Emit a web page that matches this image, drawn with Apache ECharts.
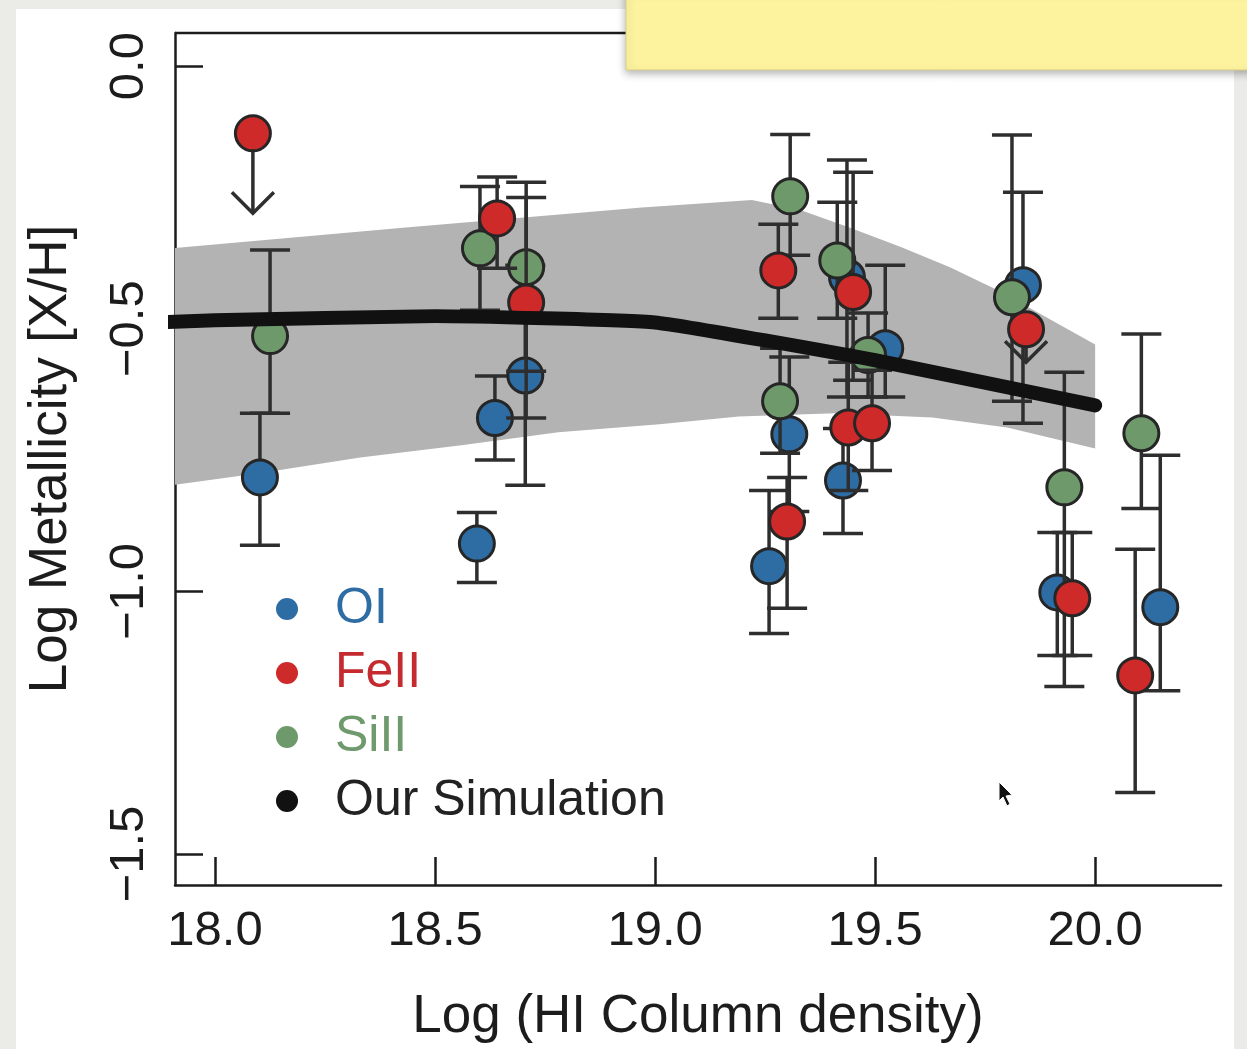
<!DOCTYPE html>
<html><head><meta charset="utf-8">
<script src="https://cdn.jsdelivr.net/npm/echarts@6/dist/echarts.min.js"></script>
<style>html,body{margin:0;padding:0;background:#ffffff;}#c{width:1247px;height:1049px;}</style>
</head><body><div id="c"></div>
<script>
// ---------- data ----------
const xTicks = [18.0, 18.5, 19.0, 19.5, 20.0];
const yTicks = [0.0, -0.5, -1.0, -1.5];

const oiX  = [18.102, 18.595, 18.636, 18.705, 19.259, 19.305, 19.427, 19.436, 19.523, 19.836, 19.914, 20.148];
const oiY  = [-0.783, -0.909, -0.670, -0.589, -0.952, -0.701, -0.789, -0.402, -0.537, -0.417, -1.002, -1.030];
const oiLo = [-0.912, -0.983, -0.750, -0.798, -1.080, -0.848, -0.890, -0.630, -0.630, -0.680, -1.122, -1.189];
const oiHi = [-0.661, -0.850, -0.590, -0.379, -0.808, -0.554, -0.690, -0.179, -0.379, -0.240, -0.888, -0.741];

const feX  = [18.641, 18.707, 19.280, 19.300, 19.439, 19.450, 19.493, 19.948, 20.091];
const feY  = [-0.290, -0.450, -0.389, -0.867, -0.688, -0.430, -0.680, -1.013, -1.160];
const feLo = [-0.385, -0.670, -0.480, -1.032, -0.808, -0.598, -0.770, -1.122, -1.383];
const feHi = [-0.211, -0.250, -0.301, -0.783, -0.564, -0.202, -0.579, -0.888, -0.920];
// FeII upper limits (arrow tips)
const feLimX   = [18.086, 19.843];
const feLimY   = [-0.128, -0.501];
const feLimTip = [-0.280, -0.564];

const siX  = [18.125, 18.602, 18.707, 19.284, 19.307, 19.414, 19.484, 19.811, 19.930, 20.105];
const siY  = [-0.514, -0.347, -0.383, -0.638, -0.248, -0.370, -0.550, -0.440, -0.802, -0.699];
const siLo = [-0.661, -0.465, -0.581, -0.737, -0.360, -0.480, -0.630, -0.638, -1.181, -0.842];
const siHi = [-0.350, -0.229, -0.221, -0.537, -0.130, -0.259, -0.470, -0.131, -0.583, -0.510];

const simX = [17.75, 18.0, 18.5, 19.0, 19.5, 20.0];
const simY = [-0.492, -0.484, -0.476, -0.488, -0.560, -0.646];

const bandUpX = [17.90, 18.44, 18.97, 19.22, 19.33, 19.44, 19.56, 19.67, 19.78, 20.00];
const bandUpY = [-0.347, -0.307, -0.269, -0.255, -0.274, -0.307, -0.345, -0.383, -0.427, -0.530];
const bandLoX = [17.90, 18.10, 18.33, 18.56, 18.78, 19.01, 19.19, 19.41, 19.63, 19.80, 20.00];
const bandLoY = [-0.798, -0.775, -0.745, -0.722, -0.697, -0.682, -0.667, -0.661, -0.669, -0.688, -0.728];

// ---------- style ----------
const FONT = '"Liberation Sans", Arial, Helvetica, sans-serif';
const C_OI = '#2e6da4', C_FE = '#cf2a2a', C_SI = '#6e9a6b', C_SIM = '#111111';
const INK = '#1c1c1c';
const BAR = '#2e2e2e';

function errSeries(name, xs, lo, hi, z) {
  return {
    type: 'custom', name: name, z: z, silent: true, clip: true,
    data: xs.map((x, i) => [x, lo[i], hi[i]]),
    encode: { x: 0, y: [1, 2] },
    renderItem: function (params, api) {
      const x = api.value(0);
      const a = api.coord([x, api.value(2)]);
      const b = api.coord([x, api.value(1)]);
      const w = 20;
      const st = { stroke: BAR, lineWidth: 3.5, fill: null };
      return { type: 'group', children: [
        { type: 'line', shape: { x1: a[0], y1: a[1], x2: b[0], y2: b[1] }, style: st },
        { type: 'line', shape: { x1: a[0] - w, y1: a[1], x2: a[0] + w, y2: a[1] }, style: st },
        { type: 'line', shape: { x1: b[0] - w, y1: b[1], x2: b[0] + w, y2: b[1] }, style: st }
      ]};
    }
  };
}

function limSeries(name, xs, ys, tips, z) {
  return {
    type: 'custom', name: name, z: z, silent: true, clip: true,
    data: xs.map((x, i) => [x, ys[i], tips[i]]),
    encode: { x: 0, y: [1, 2] },
    renderItem: function (params, api) {
      const x = api.value(0);
      const a = api.coord([x, api.value(1)]);
      const b = api.coord([x, api.value(2)]);
      const st = { stroke: BAR, lineWidth: 3.5, fill: null };
      return { type: 'group', children: [
        { type: 'line', shape: { x1: a[0], y1: a[1], x2: b[0], y2: b[1] }, style: st },
        { type: 'polyline', shape: { points: [[b[0] - 21, b[1] - 21], [b[0], b[1]], [b[0] + 21, b[1] - 21]] }, style: st }
      ]};
    }
  };
}

function ptsSeries(name, xs, ys, color, z) {
  return {
    type: 'scatter', name: name, z: z, silent: true,
    symbol: 'circle', symbolSize: 35,
    itemStyle: { color: color, borderColor: '#262626', borderWidth: 3, opacity: 1 },
    emphasis: { disabled: true },
    data: xs.map((x, i) => [x, ys[i]])
  };
}

const bandSeries = {
  type: 'custom', name: 'band', z: 1, silent: true, clip: true,
  data: [[19.0, -0.5]],
  renderItem: function (params, api) {
    const pts = [];
    for (let i = 0; i < bandUpX.length; i++) pts.push(api.coord([bandUpX[i], bandUpY[i]]));
    for (let i = bandLoX.length - 1; i >= 0; i--) pts.push(api.coord([bandLoX[i], bandLoY[i]]));
    return { type: 'polygon', shape: { points: pts }, style: { fill: '#b3b3b3', stroke: null } };
  }
};

const yFmt = v => (Math.abs(v) < 1e-9 ? '0.0' : '\u2212' + Math.abs(v).toFixed(1));

const chart = echarts.init(document.getElementById('c'), null, { renderer: 'canvas' });
chart.setOption({
  animation: false,
  backgroundColor: '#ffffff',
  grid: { left: 175, top: 33, width: 1046, height: 852, containLabel: false },
  xAxis: {
    type: 'value', min: 17.909, max: 20.286,
    axisLine: { onZero: false, lineStyle: { color: INK, width: 2.5 } },
    axisTick: { inside: true, length: 28, customValues: xTicks, lineStyle: { color: INK, width: 2.5 } },
    axisLabel: { customValues: xTicks, formatter: v => v.toFixed(1), fontSize: 49, color: INK, margin: 22, fontFamily: FONT },
    splitLine: { show: false },
    name: 'Log (HI Column density)', nameLocation: 'middle', nameGap: 106,
    nameTextStyle: { fontSize: 53, color: INK, fontFamily: FONT }
  },
  yAxis: {
    type: 'value', min: -1.559, max: 0.063,
    axisLine: { onZero: false, lineStyle: { color: INK, width: 2.5 } },
    axisTick: { inside: true, length: 28, customValues: yTicks, lineStyle: { color: INK, width: 2.5 } },
    axisLabel: { customValues: yTicks, formatter: yFmt, rotate: 90, fontSize: 49, color: INK, margin: 21, fontFamily: FONT },
    splitLine: { show: false },
    name: 'Log Metallicity [X/H]', nameLocation: 'middle', nameGap: 97,
    nameTextStyle: { fontSize: 53, color: INK, fontFamily: FONT }
  },
  legend: {
    orient: 'vertical', left: 271, top: 578, icon: 'circle',
    itemWidth: 22, itemHeight: 22, itemGap: 12, selectedMode: false,
    itemStyle: { borderWidth: 0 },
    textStyle: { fontSize: 50, fontFamily: FONT, padding: [0, 0, 0, 32], lineHeight: 52 },
    data: [
      { name: 'OI', textStyle: { color: C_OI } },
      { name: 'FeII', textStyle: { color: '#c42a2e' } },
      { name: 'SiII', textStyle: { color: '#6f9a6e' } },
      { name: 'Our Simulation', textStyle: { color: '#222222' } }
    ]
  },
  graphic: [
    { type: 'rect', shape: { x: 0, y: 0, width: 16, height: 1049 }, style: { fill: '#ebebe8' }, silent: true },
    { type: 'rect', shape: { x: 1234, y: 0, width: 13, height: 1049 }, style: { fill: '#ebebe8' }, silent: true },
    { type: 'rect', shape: { x: 0, y: 0, width: 1247, height: 9 }, style: { fill: '#ebebe8' }, silent: true },
    { type: 'line', shape: { x1: 175, y1: 33, x2: 1221, y2: 33 }, style: { stroke: INK, lineWidth: 2.5 }, silent: true },
    { type: 'rect', z: 100, shape: { x: 626, y: -10, width: 640, height: 80 },
      style: { fill: '#fdf39e', stroke: '#d8cf8a', lineWidth: 1, shadowBlur: 8, shadowOffsetY: 3, shadowColor: 'rgba(0,0,0,0.3)' }, silent: true },
    { type: 'polygon', z: 100, shape: { points: [[999, 782], [999, 801], [1003, 797], [1007, 806], [1010, 804], [1006, 796], [1012, 795]] },
      style: { fill: '#111111', stroke: '#ffffff', lineWidth: 1 }, silent: true }
  ],
  series: [
    bandSeries,
    errSeries('OI-err', oiX, oiLo, oiHi, 3),
    ptsSeries('OI', oiX, oiY, C_OI, 4),
    errSeries('SiII-err', siX, siLo, siHi, 5),
    ptsSeries('SiII', siX, siY, C_SI, 6),
    errSeries('FeII-err', feX, feLo, feHi, 7),
    limSeries('FeII-lim', feLimX, feLimY, feLimTip, 7),
    ptsSeries('FeII', feX.concat(feLimX), feY.concat(feLimY), C_FE, 8),
    {
      type: 'line', name: 'Our Simulation', z: 10, silent: true, clip: true,
      data: simX.map((x, i) => [x, simY[i]]),
      symbol: 'none', smooth: 0.12,
      lineStyle: { width: 14, color: C_SIM, cap: 'round', join: 'round' },
      itemStyle: { color: C_SIM }
    }
  ]
});
</script>
</body></html>
